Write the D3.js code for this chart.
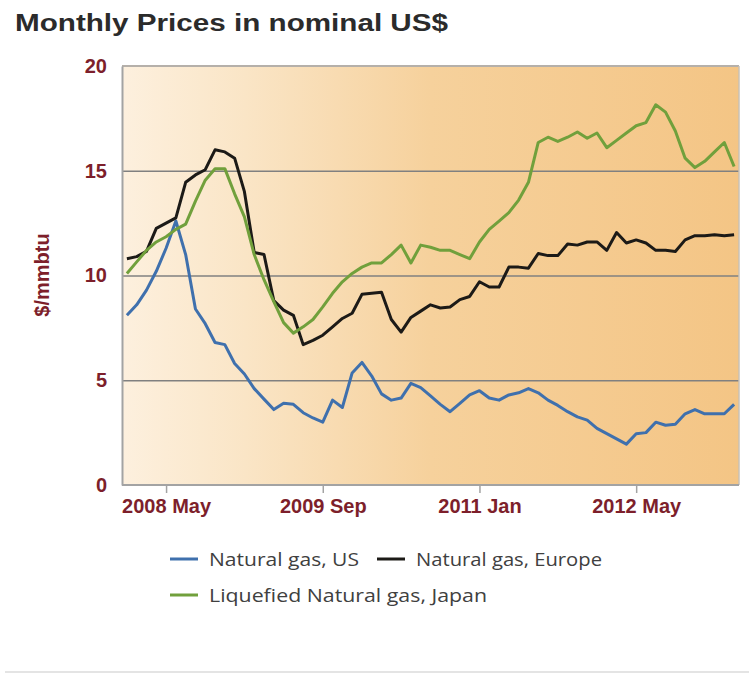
<!DOCTYPE html>
<html>
<head>
<meta charset="utf-8">
<script src="https://cdn.jsdelivr.net/npm/d3@7"></script>
<style>
  body { margin: 0; background: #fff; }
  svg { display: block; }
</style>
</head>
<body>
<div id="chart"></div>
<script>
(function() {
var width = 749,
  height = 676;

// monthly, 2008 Jan .. 2013 Mar
var months = d3.timeMonth.range(new Date(2008, 0, 1), new Date(2013, 3, 1))
  .map(d3.timeFormat("%Y-%m"));

var tickMonths = ["2008-05", "2009-09", "2011-01", "2012-05"];
var tickLabels = ["2008 May", "2009 Sep", "2011 Jan", "2012 May"];
var yTicks = [0, 5, 10, 15, 20];

var usGas = [8.1, 8.6, 9.3, 10.2, 11.3, 12.6, 11.0, 8.4, 7.7, 6.8, 6.7, 5.8,
  5.3, 4.6, 4.1, 3.6, 3.9, 3.85, 3.45, 3.2, 3.0, 4.05, 3.7, 5.35,
  5.85, 5.2, 4.35, 4.05, 4.15, 4.85, 4.65, 4.25, 3.85, 3.5, 3.9, 4.3,
  4.5, 4.15, 4.05, 4.3, 4.4, 4.6, 4.4, 4.05, 3.8, 3.5, 3.25, 3.1,
  2.7, 2.45, 2.2, 1.95, 2.45, 2.5, 3.0, 2.85, 2.9, 3.4, 3.6, 3.4,
  3.4, 3.4, 3.85];

var europeGas = [10.8, 10.9, 11.15, 12.25, 12.5, 12.75, 14.45, 14.8, 15.05, 16.0, 15.9, 15.6,
  14.0, 11.1, 11.0, 8.8, 8.35, 8.1, 6.7, 6.9, 7.15, 7.55, 7.95, 8.2,
  9.1, 9.15, 9.2, 7.9, 7.3, 8.0, 8.3, 8.6, 8.45, 8.5, 8.85, 9.0,
  9.7, 9.45, 9.45, 10.4, 10.4, 10.35, 11.05, 10.95, 10.95, 11.5, 11.45, 11.6,
  11.6, 11.2, 12.05, 11.55, 11.7, 11.55, 11.2, 11.2, 11.15, 11.7, 11.9, 11.9,
  11.95, 11.9, 11.95];

var japanLng = [10.1, 10.65, 11.2, 11.6, 11.85, 12.2, 12.45, 13.55, 14.55, 15.1, 15.1, 13.9,
  12.8, 11.0, 9.8, 8.75, 7.75, 7.25, 7.55, 7.9, 8.5, 9.15, 9.7, 10.1,
  10.4, 10.6, 10.6, 11.0, 11.45, 10.6, 11.45, 11.35, 11.2, 11.2, 11.0, 10.8,
  11.6, 12.2, 12.6, 13.0, 13.6, 14.45, 16.35, 16.6, 16.4, 16.6, 16.85, 16.55,
  16.8, 16.1, 16.45, 16.8, 17.15, 17.3, 18.15, 17.8, 16.9, 15.6, 15.15, 15.45,
  15.9, 16.35, 15.2];

var seriesNames = ["Natural gas, US", "Natural gas, Europe", "Liquefied Natural gas, Japan"];
var seriesColors = ["#3f70ad", "#1c1a17", "#71a03c"];
var seriesValues = [usGas, europeGas, japanLng];

var left = 122, right = 739, top = 66, bottom = 485;
var labelRed = "#7d1f2b";

var svg = d3.select("#chart")
  .append("svg")
  .attr("width", width)
  .attr("height", height)

var x = d3.scalePoint().domain(months).range([left, right]).padding(0.5)
var y = d3.scaleLinear().domain([0, 20]).range([bottom, top])

// background gradient
var grad = svg.append("defs").append("linearGradient")
  .attr("id", "bg")
  .attr("x1", 0).attr("x2", 1).attr("y1", 0).attr("y2", 0)
grad.append("stop").attr("offset", "0%").attr("stop-color", "#fdf0de")
grad.append("stop").attr("offset", "20%").attr("stop-color", "#fae5c6")
grad.append("stop").attr("offset", "50%").attr("stop-color", "#f6d19c")
grad.append("stop").attr("offset", "100%").attr("stop-color", "#f4c585")

svg.append("rect")
  .attr("x", left).attr("y", top)
  .attr("width", right - left).attr("height", bottom - top)
  .attr("fill", "url(#bg)")

// title
svg.append("text")
  .attr("x", 15).attr("y", 31)
  .attr("font-family", "Liberation Sans, Arial, sans-serif")
  .attr("font-weight", "bold")
  .attr("font-size", 23)
  .attr("fill", "#2b2b2b")
  .attr("textLength", 433)
  .attr("lengthAdjust", "spacingAndGlyphs")
  .text("Monthly Prices in nominal US$")

// gridlines
svg.append("g")
  .attr("transform", "translate(" + left + ",0)")
  .call(d3.axisLeft(y).tickValues([5, 10, 15]).tickSize(-(right - left)).tickFormat(""))
  .call(function(g) { g.select(".domain").remove() })
  .selectAll("line")
  .attr("stroke", "#808080")
  .attr("stroke-width", 1.3)

// frame
svg.append("line")
  .attr("x1", left).attr("x2", right).attr("y1", top).attr("y2", top)
  .attr("stroke", "#b5b0aa").attr("stroke-width", 2)
svg.append("line")
  .attr("x1", right).attr("x2", right).attr("y1", top).attr("y2", bottom)
  .attr("stroke", "#c8c0b6").attr("stroke-width", 1.5)

// y axis
var yAxis = svg.append("g")
  .attr("transform", "translate(" + left + ",0)")
  .call(d3.axisLeft(y).tickValues(yTicks).tickSize(0).tickPadding(15))
yAxis.select(".domain").attr("stroke", "#a3a3a3").attr("stroke-width", 2)
yAxis.selectAll("text")
  .attr("font-family", "Liberation Sans, Arial, sans-serif")
  .attr("font-weight", "bold")
  .attr("font-size", 20)
  .attr("fill", labelRed)

// x axis
var xAxis = svg.append("g")
  .attr("transform", "translate(0," + bottom + ")")
  .call(d3.axisBottom(x).tickValues(tickMonths).tickSize(8).tickPadding(6)
    .tickFormat(function(d) { return tickLabels[tickMonths.indexOf(d)] }))
xAxis.select(".domain").attr("stroke", "#a3a3a3").attr("stroke-width", 2)
  .attr("d", "M" + left + ",0H" + right)
xAxis.selectAll("line").attr("stroke", "#a3a3a3").attr("stroke-width", 1.5)
xAxis.selectAll("text")
  .attr("font-family", "Liberation Sans, Arial, sans-serif")
  .attr("font-weight", "bold")
  .attr("font-size", 20)
  .attr("fill", labelRed)

// y title
svg.append("text")
  .attr("transform", "translate(49,275) rotate(-90)")
  .attr("text-anchor", "middle")
  .attr("font-family", "Liberation Sans, Arial, sans-serif")
  .attr("font-weight", "bold")
  .attr("font-size", 20)
  .attr("fill", labelRed)
  .text("$/mmbtu")

// lines
var line = d3.line()
  .x(function(d, i) { return x(months[i]) })
  .y(function(d) { return y(d) })

svg.selectAll(".series")
  .data(seriesValues)
  .enter().append("path")
  .attr("class", "series")
  .attr("d", line)
  .attr("fill", "none")
  .attr("stroke", function(d, i) { return seriesColors[i] })
  .attr("stroke-width", 3)
  .attr("stroke-linejoin", "round")

// legend
var legendPos = [[170, 559], [377, 559], [170, 595]];
var legendLen = [150, 186, 278];
var legend = svg.selectAll(".legend")
  .data(seriesNames)
  .enter().append("g")
  .attr("class", "legend")
  .attr("transform", function(d, i) { return "translate(" + legendPos[i][0] + "," + legendPos[i][1] + ")" })
legend.append("line")
  .attr("x1", 0).attr("x2", 28)
  .attr("stroke", function(d, i) { return seriesColors[i] })
  .attr("stroke-width", 3)
legend.append("text")
  .attr("x", 39).attr("y", 7)
  .attr("font-family", "Open Sans, sans-serif")
  .attr("font-size", 19)
  .attr("fill", "#404040")
  .attr("textLength", function(d, i) { return legendLen[i] })
  .attr("lengthAdjust", "spacingAndGlyphs")
  .text(function(d) { return d })

// bottom rule
svg.append("line")
  .attr("x1", 5).attr("x2", width).attr("y1", 672).attr("y2", 672)
  .attr("stroke", "#e4e4e4").attr("stroke-width", 2)
})();
</script>
</body>
</html>
